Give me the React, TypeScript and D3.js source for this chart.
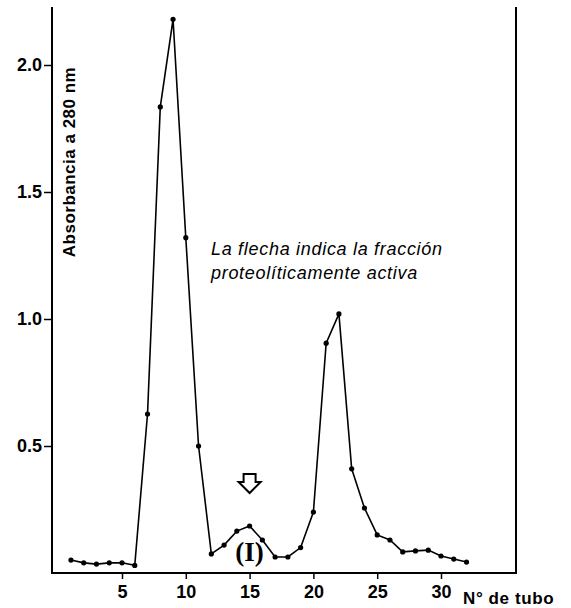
import React, { useEffect, useRef } from "react";
import * as d3 from "d3";

// Nº de tubo y absorbancia
const tubos = [
  1, 2, 3, 4, 5, 6, 7, 8, 9, 10, 11, 12, 13, 14, 15, 16, 17, 18, 19, 20, 21,
  22, 23, 24, 25, 26, 27, 28, 29, 30, 31, 32,
];
const absorbancia = [
  0.051, 0.04, 0.035, 0.04, 0.04, 0.03, 0.626, 1.835, 2.18, 1.32, 0.5, 0.075,
  0.11, 0.165, 0.185, 0.13, 0.063, 0.063, 0.1, 0.24, 0.905, 1.02, 0.41, 0.256,
  0.15, 0.13, 0.083, 0.087, 0.09, 0.067, 0.055, 0.043,
];
const xTicks = [5, 10, 15, 20, 25, 30];
const yTicks = [0.5, 1.0, 1.5, 2.0];
const tuboActivo = 15;

const App = () => {
  const ref = useRef(null);
  const width = 571;
  const height = 608;
  // bordes del marco
  const left = 52;
  const right = 516;
  const top = 7;
  const bottom = 573;

  useEffect(() => {
    const svg = d3.select(ref.current);
    svg.selectAll("*").remove();

    const x = d3.scaleLinear().domain([0, 30]).range([58.2, 441]);
    const y = d3.scaleLinear().domain([0, 2]).range([573, 65]);

    //marco: eje izq, abajo y linea derecha
    svg
      .append("path")
      .attr("d", `M${left},${top}V${bottom}H${right}V${top}`)
      .attr("fill", "none")
      .attr("stroke", "#000")
      .attr("stroke-width", 2);

    const yAxis = svg
      .append("g")
      .attr("transform", `translate(${left},0)`)
      .call(
        d3
          .axisLeft(y)
          .tickValues(yTicks)
          .tickSize(8)
          .tickPadding(2)
          .tickFormat(d3.format(".1f"))
      );
    yAxis.select(".domain").remove();

    const xAxis = svg
      .append("g")
      .attr("transform", `translate(0,${bottom})`)
      .call(d3.axisBottom(x).tickValues(xTicks).tickSize(6).tickPadding(6));
    xAxis.select(".domain").remove();

    svg
      .selectAll(".tick line")
      .attr("stroke", "#000")
      .attr("stroke-width", 1.5);
    svg
      .selectAll(".tick text")
      .attr("fill", "#000")
      .style("font-family", "'Liberation Sans', Arial, sans-serif")
      .style("font-weight", "bold")
      .style("font-size", "18px");

    // titulos
    svg
      .append("text")
      .attr("x", 463)
      .attr("y", 604)
      .style("font-family", "'Liberation Sans', Arial, sans-serif")
      .style("font-weight", "bold")
      .style("font-size", "17px")
      .style("letter-spacing", "0.6px")
      .text("N° de tubo");

    svg
      .append("text")
      .attr("transform", "translate(75,162) rotate(-90)")
      .attr("text-anchor", "middle")
      .style("font-family", "'Liberation Sans', Arial, sans-serif")
      .style("font-weight", "bold")
      .style("font-size", "17px")
      .style("letter-spacing", "0.5px")
      .text("Absorbancia a 280 nm");

    // curva
    const datos = tubos.map((t, i) => [t, absorbancia[i]]);
    const line = d3
      .line()
      .x((d) => x(d[0]))
      .y((d) => y(d[1]));

    svg
      .append("path")
      .datum(datos)
      .attr("d", line)
      .attr("fill", "none")
      .attr("stroke", "#000")
      .attr("stroke-width", 1.6);

    svg
      .selectAll("circle")
      .data(datos)
      .enter()
      .append("circle")
      .attr("cx", (d) => x(d[0]))
      .attr("cy", (d) => y(d[1]))
      .attr("r", 2.6)
      .attr("fill", "#000");

    // anotacion
    const nota = svg
      .append("text")
      .style("font-family", "'Liberation Sans', Arial, sans-serif")
      .style("font-style", "italic")
      .style("font-size", "18px")
      .style("letter-spacing", "0.7px")
      .attr("fill", "#000");
    nota
      .append("tspan")
      .attr("x", 211)
      .attr("y", 255)
      .text("La flecha indica la fracción");
    nota
      .append("tspan")
      .attr("x", 211)
      .attr("y", 279)
      .text("proteolíticamente  activa");

    // flecha hueca
    const ax = x(tuboActivo);
    const ay = 474;
    svg
      .append("path")
      .attr(
        "d",
        `M${ax - 6},${ay}H${ax + 6}V${ay + 8}H${ax + 11}L${ax},${ay + 19}L${
          ax - 11
        },${ay + 8}H${ax - 6}Z`
      )
      .attr("fill", "#fff")
      .attr("stroke", "#000")
      .attr("stroke-width", 2)
      .attr("stroke-linejoin", "miter");

    svg
      .append("text")
      .attr("x", ax)
      .attr("y", 561)
      .attr("text-anchor", "middle")
      .style("font-family", "'Liberation Serif', 'Times New Roman', serif")
      .style("font-weight", "bold")
      .style("font-size", "27px")
      .text("(I)");
  }, []);

  return (
    <svg
      ref={ref}
      width={width}
      height={height}
      style={{ position: "absolute", left: 0, top: 0, background: "#fff" }}
    ></svg>
  );
};

export default App;
